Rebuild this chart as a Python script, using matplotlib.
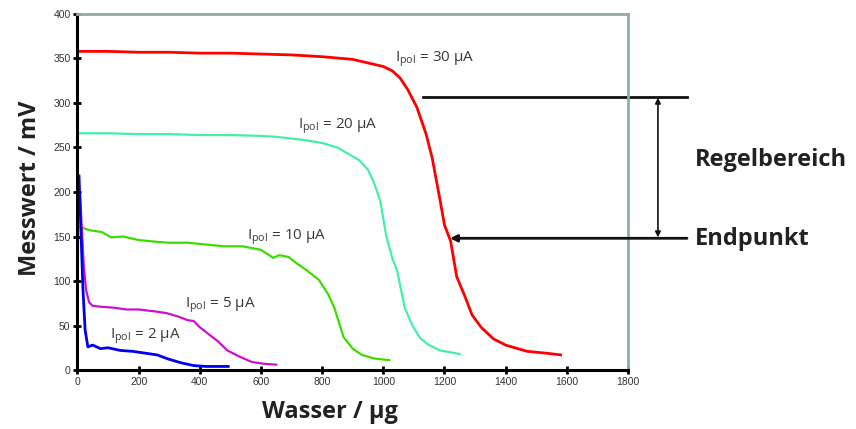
import matplotlib.pyplot as plt

plt.rcParams['font.family'] = ['Open Sans', 'DejaVu Sans']
plt.rcParams['mathtext.fontset'] = 'custom'
plt.rcParams['mathtext.rm'] = 'Open Sans'

# I_pol = 30 uA
x30 = [0, 100, 200, 300, 400, 500, 600, 700, 800, 900, 950, 1000, 1030, 1055, 1080, 1110,
       1140, 1160, 1185, 1200, 1220, 1240, 1270, 1290, 1320, 1360, 1400, 1470, 1530, 1580]
y30 = [358, 358, 357, 357, 356, 356, 355, 354, 352, 349, 345, 341, 336, 328, 315, 295,
       265, 238, 192, 163, 145, 105, 80, 62, 48, 35, 28, 21, 19, 17]
# I_pol = 20 uA
x20 = [0, 100, 200, 300, 400, 500, 600, 650, 700, 750, 800, 850, 880, 920, 950, 970, 990,
       1010, 1030, 1045, 1070, 1095, 1120, 1145, 1185, 1250]
y20 = [266, 266, 265, 265, 264, 264, 263, 262, 260, 258, 255, 250, 244, 236, 225, 210, 190,
       150, 125, 112, 70, 50, 36, 29, 22, 18]
# I_pol = 10 uA
x10 = [5, 40, 80, 110, 150, 200, 260, 300, 360, 420, 480, 540, 600, 640, 660, 690, 720,
       750, 790, 820, 840, 870, 900, 930, 970, 1020]
y10 = [161, 157, 155, 149, 150, 146, 144, 143, 143, 141, 139, 139, 135, 126, 129, 127, 119,
       112, 101, 85, 70, 37, 24, 17, 13, 11]
# I_pol = 5 uA
x5 = [8, 14, 20, 28, 38, 50, 80, 120, 160, 200, 250, 290, 330, 360, 380, 400, 430, 460,
      490, 530, 570, 610, 650]
y5 = [200, 160, 120, 90, 76, 72, 71, 70, 68, 68, 66, 64, 60, 56, 55, 48, 40, 32,
      22, 15, 9, 7, 6]
# I_pol = 2 uA
x2 = [5, 12, 18, 25, 34, 50, 75, 100, 140, 180, 220, 260, 300, 340, 380, 420, 493]
y2 = [218, 150, 90, 45, 26, 28, 24, 25, 22, 21, 19, 17, 12, 8, 5, 4, 4]

labels = ['30', '20', '10', '5', '2']
label_pos = [(1038, 349), (721, 274), (554, 149), (351, 73), (106, 38)]

fig = plt.figure(figsize=(8.56, 4.29), dpi=100)
ax = fig.add_axes([0.0905, 0.1375, 0.6431, 0.8299])

ax.plot(x30, y30, color='#ff0000', lw=2.0)
ax.plot(x20, y20, color='#44f0a8', lw=1.6)
ax.plot(x10, y10, color='#3cdc00', lw=1.6)
ax.plot(x5, y5, color='#cc11cc', lw=1.6)
ax.plot(x2, y2, color='#0000ee', lw=2.0)

for lab, (tx, ty) in zip(labels, label_pos):
    ax.text(tx, ty, r'$\mathrm{I_{pol}}$ = ' + lab + ' µA', fontsize=11,
            color='#3a3a3a', va='center', ha='left')

ax.set_xlim(0, 1800)
ax.set_ylim(0, 400)
ax.set_xticks(range(0, 1801, 200))
ax.set_yticks(range(0, 401, 50))
ax.tick_params(direction='inout', length=6, width=2, color='black',
               labelsize=7.5, labelcolor='#333333', pad=2)
for t in ax.get_xticklabels() + ax.get_yticklabels():
    t.set_fontfamily('Liberation Sans')
ax.spines['left'].set_linewidth(2.2)
ax.spines['bottom'].set_linewidth(2.2)
ax.spines['top'].set_color('#8fabab')
ax.spines['right'].set_color('#8fabab')
ax.spines['top'].set_linewidth(2)
ax.spines['right'].set_linewidth(2)

# Regelbereich annotation
ax.plot([1130, 1993], [307, 307], color='#111111', lw=2, clip_on=False)
ax.annotate('', xy=(1898, 306), xytext=(1898, 149), annotation_clip=False,
            arrowprops=dict(arrowstyle='<|-|>', color='#111111', lw=1.2,
                            mutation_scale=8, shrinkA=0, shrinkB=0))
ax.annotate('', xy=(1218, 148), xytext=(1993, 148), annotation_clip=False,
            arrowprops=dict(arrowstyle='-|>', color='#111111', lw=2,
                            mutation_scale=10, shrinkA=0, shrinkB=0))
ax.text(2019, 236, 'Regelbereich', fontsize=17, fontweight='bold',
        color='#222222', va='center', ha='left', clip_on=False)
ax.text(2019, 147, 'Endpunkt', fontsize=17, fontweight='bold',
        color='#222222', va='center', ha='left', clip_on=False)

fig.text(30 / 856, 1 - 188 / 429, 'Messwert / mV', rotation=90, fontsize=17,
         fontweight='bold', color='#222222', ha='center', va='center')
fig.text(330 / 856, 1 - 412 / 429, 'Wasser / µg', fontsize=17,
         fontweight='bold', color='#222222', ha='center', va='center')

fig.savefig('out.png', dpi=100)
